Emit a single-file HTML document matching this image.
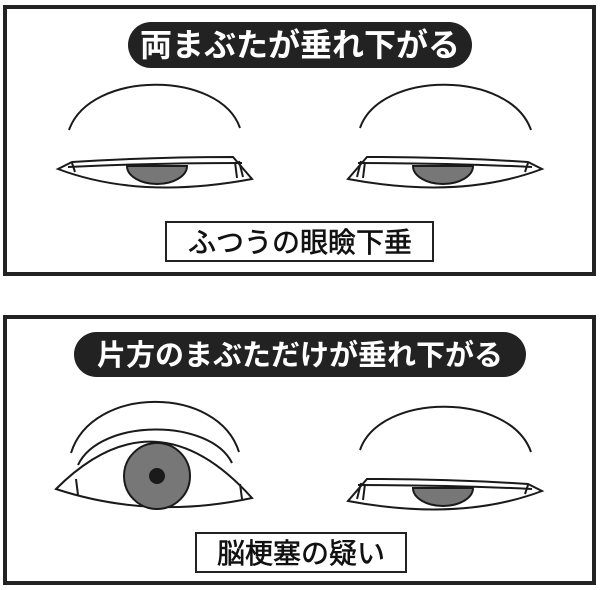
<!DOCTYPE html>
<html><head><meta charset="utf-8"><style>
html,body{margin:0;padding:0;background:#fff;width:600px;height:590px;overflow:hidden}
svg{display:block}
</style></head><body>
<svg width="600" height="590" viewBox="0 0 600 590" xmlns="http://www.w3.org/2000/svg">
<defs>
<g id="closed" fill="none" stroke="#1a1a1a" stroke-width="2">
  <path d="M69,130 C90,70 220,70 240,128"/>
  <path d="M58,169 L72,162 Q150,157 233,157 L252,179 Q140,200 58,169 Z" fill="#fff"/>
  <path d="M127,166 A30,18 0 0 0 187,166 Z" fill="#777"/>
  <path d="M68,167 Q150,163 242,163"/>
  <path d="M72,163 L75,172 M239,161 L243,177 M235,162 L237,178"/>
</g>
</defs>
<rect x="5" y="7" width="589" height="267" fill="#fff" stroke="#222" stroke-width="4"/>
<rect x="5" y="317" width="589" height="266" fill="#fff" stroke="#222" stroke-width="4"/>

<rect x="128" y="22" width="344" height="46" rx="23" fill="#222"/>
<text x="300" y="56" text-anchor="middle" font-family="'Liberation Sans','Noto Sans CJK JP',sans-serif" font-size="32" font-weight="bold" fill="#fff">両まぶたが垂れ下がる</text>

<use href="#closed"/>
<use href="#closed" transform="translate(600,0) scale(-1,1)"/>

<rect x="166" y="222" width="267" height="39" fill="#fff" stroke="#222" stroke-width="2"/>
<text x="300" y="252" text-anchor="middle" font-family="'Liberation Sans','Noto Sans CJK JP',sans-serif" font-size="28" fill="#111" stroke="#111" stroke-width="0.6">ふつうの眼瞼下垂</text>

<rect x="74" y="332" width="452" height="45" rx="22.5" fill="#222"/>
<text x="300" y="365" text-anchor="middle" font-family="'Liberation Sans','Noto Sans CJK JP',sans-serif" font-size="29" font-weight="bold" fill="#fff">片方のまぶただけが垂れ下がる</text>

<g fill="none" stroke="#1a1a1a" stroke-width="2">
  <path d="M71,453 C92,385 218,385 239,452"/>
  <path d="M78,465 C100,418 210,418 232,463"/>
  <path d="M56,489 Q155,390 252,498 Q150,520 56,489 Z" fill="#fff"/>
  <circle cx="157" cy="476" r="33" fill="#777"/>
  <circle cx="157" cy="476" r="7" fill="#1a1a1a"/>
  <path d="M76,479 L78,495 M240,484 L242,499"/>
</g>

<use href="#closed" transform="translate(600,322) scale(-1,1)"/>

<rect x="196" y="533" width="210" height="39" fill="#fff" stroke="#222" stroke-width="2"/>
<text x="301" y="563" text-anchor="middle" font-family="'Liberation Sans','Noto Sans CJK JP',sans-serif" font-size="28" fill="#111" stroke="#111" stroke-width="0.6">脳梗塞の疑い</text>
</svg>
</body></html>
